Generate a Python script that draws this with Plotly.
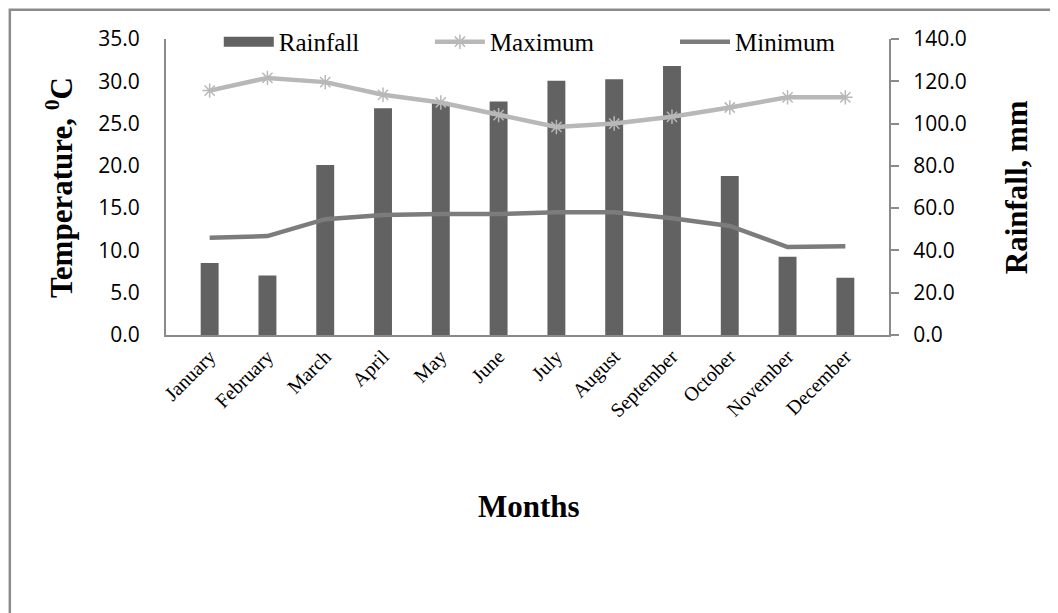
import plotly.graph_objects as go

# monthly climate data
months = ["January", "February", "March", "April", "May", "June",
          "July", "August", "September", "October", "November", "December"]
rainfall_mm = [34.0, 28.2, 80.4, 107.2, 109.6, 110.4, 120.3, 121.0, 127.2, 75.2, 37.0, 27.1]
max_temp = [28.9, 30.4, 29.9, 28.4, 27.5, 26.0, 24.6, 25.0, 25.8, 26.9, 28.1, 28.1]
min_temp = [11.5, 11.7, 13.7, 14.2, 14.3, 14.3, 14.5, 14.5, 13.8, 12.9, 10.4, 10.5]

serif = "Liberation Serif"
sans = "Open Sans"
axis_gray = "#8a8a8a"
bar_gray = "#626262"

fig = go.Figure()

# bars go on the primary axis (drawn underneath), shown on the right side
fig.add_trace(go.Bar(
    x=months, y=rainfall_mm, name="Rainfall",
    marker=dict(color=bar_gray, line=dict(width=0)),
    yaxis="y", showlegend=False,
))
# legend-only entry so the rainfall key is a wide bar like the original
fig.add_trace(go.Scatter(
    x=[months[0]], y=[None], name="Rainfall", mode="lines",
    line=dict(color=bar_gray, width=11),
    yaxis="y", hoverinfo="skip", legend="legend",
))
# temperatures on the overlaying axis so the lines sit on top of the bars
fig.add_trace(go.Scatter(
    x=months, y=max_temp, name="Maximum", mode="lines+markers",
    line=dict(color="#b8b8b8", width=4.5),
    marker=dict(symbol="asterisk-open", size=12, color="#b8b8b8",
                line=dict(color="#b8b8b8", width=1.5)),
    yaxis="y2", legend="legend2",
))
fig.add_trace(go.Scatter(
    x=months, y=min_temp, name="Minimum", mode="lines",
    line=dict(color="#7c7c7c", width=4.5),
    yaxis="y2", legend="legend3",
))

# one legend per entry so each key sits where the original has it
leg = dict(orientation="h", y=0.99, xanchor="left", yanchor="middle",
           font=dict(family=serif, size=25, color="black"),
           bgcolor="rgba(0,0,0,0)", itemwidth=50)

# the page body adds 8px, so margins are shifted to compensate
fig.update_layout(
    width=1058, height=613,
    margin=dict(l=158, r=177, t=31, b=286, autoexpand=False),
    paper_bgcolor="white", plot_bgcolor="white",
    font=dict(family=serif, color="black"),
    bargap=0.69,
    showlegend=True,
    legend=dict(leg, x=0.073),
    legend2=dict(leg, x=0.365),
    legend3=dict(leg, x=0.704),
    xaxis=dict(
        tickangle=-45, showgrid=False, showline=True, linecolor=axis_gray, linewidth=2,
        ticks="", tickfont=dict(family=serif, size=20, color="black"),
    ),
    yaxis=dict(
        side="right", range=[0, 140], dtick=20, tickformat=".1f",
        showgrid=False, showline=True, linecolor=axis_gray, linewidth=2,
        ticks="outside", ticklen=8, tickcolor=axis_gray, tickwidth=2,
        ticklabelstandoff=10,
        tickfont=dict(family=sans, size=21, color="black"), zeroline=False,
    ),
    yaxis2=dict(
        overlaying="y", side="left", range=[0, 35], dtick=5, tickformat=".1f",
        showgrid=False, showline=True, linecolor=axis_gray, linewidth=2,
        ticks="", ticklabelstandoff=20,
        tickfont=dict(family=sans, size=21, color="black"), zeroline=False,
    ),
)

# axis titles as annotations for precise placement
fig.add_annotation(text="<b>Temperature, <sup>0</sup>C</b>", textangle=-90,
                   x=-0.148, y=0.5, xref="paper", yref="paper", showarrow=False,
                   xanchor="center", yanchor="middle",
                   font=dict(family=serif, size=31, color="black"))
fig.add_annotation(text="<b>Rainfall, mm</b>", textangle=-90,
                   x=1.176, y=0.5, xref="paper", yref="paper", showarrow=False,
                   xanchor="center", yanchor="middle",
                   font=dict(family=serif, size=31, color="black"))
fig.add_annotation(text="<b>Months</b>",
                   x=0.502, y=-0.578, xref="paper", yref="paper", showarrow=False,
                   xanchor="center", yanchor="middle",
                   font=dict(family=serif, size=31, color="black"))

# outer chart frame
fig.add_shape(type="rect", xref="paper", yref="paper",
              x0=-0.216, x1=1.25, y0=-1.0, y1=1.099,
              line=dict(color="#8c8c8c", width=2.5), layer="below")

fig.write_html("out.html")
